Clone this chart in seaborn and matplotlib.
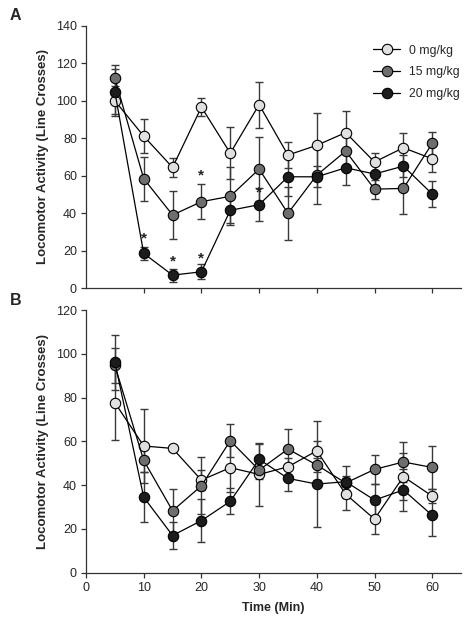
import numpy as np
import pandas as pd
import matplotlib
matplotlib.use("Agg")
import matplotlib.pyplot as plt
import seaborn as sns

time = [5, 10, 15, 20, 25, 30, 35, 40, 45, 50, 55, 60]
doses = ["0 mg/kg", "15 mg/kg", "20 mg/kg"]

# Panel A means / SEM
a_0 = [100, 81.1, 64.4, 96.6, 72, 97.9, 71, 76.2, 83, 67.3, 74.9, 69]
a_0_err = [8, 9, 5, 5, 14, 12.3, 7, 17, 11.5, 5, 8, 7]
a_15 = [112, 58.4, 39, 46.1, 49, 63.5, 39.9, 60.3, 73.1, 52.8, 53.2, 77.2]
a_15_err = [7, 11.7, 12.7, 9.4, 15.5, 17, 14.3, 15.5, 8, 5, 13.5, 6]
a_20 = [104.8, 18.5, 6.9, 8.7, 41.5, 44.5, 59.4, 59.4, 64.2, 60.9, 65.1, 50.2]
a_20_err = [12, 3.5, 3.5, 4, 7, 8.7, 10, 5.5, 9, 6, 6, 7]

# Panel B means / SEM
b_0 = [77.7, 57.9, 56.8, 42.3, 48, 44.9, 48.4, 55.7, 35.9, 24.5, 43.9, 35]
b_0_err = [17, 16.7, 1, 4.6, 11, 14.5, 4, 13.4, 7.4, 6.8, 10.6, 3.2]
b_15 = [94.7, 51.3, 28.3, 39.7, 60.3, 46.9, 56.5, 49.2, 41, 47.2, 50.6, 48.1]
b_15_err = [8.2, 5.5, 9.8, 13, 7.5, 4, 9, 3, 3, 6.7, 9.1, 9.8]
b_20 = [96.2, 34.5, 17, 23.8, 32.6, 51.8, 43.1, 40.5, 41.6, 33.2, 37.8, 26.2]
b_20_err = [12.5, 11.5, 6.2, 9.8, 6, 7, 5.8, 19.5, 7.3, 7.5, 9.5, 9.4]

# significance stars (panel A)
star_x = [10, 15, 20, 20, 30]
star_y = [26.5, 14, 16, 60, 51]

colors = ["#e0e0e0", "#6e6e6e", "#1c1c1c"]


def make_df(series, errs):
    rows = []
    for dose, vals, err in zip(doses, series, errs):
        for t, v, e in zip(time, vals, err):
            rows.append({"Time": t, "Activity": v, "SEM": e, "Dose": dose})
    return pd.DataFrame(rows)


df_a = make_df([a_0, a_15, a_20], [a_0_err, a_15_err, a_20_err])
df_b = make_df([b_0, b_15, b_20], [b_0_err, b_15_err, b_20_err])

sns.set_style("ticks")
plt.rcParams["font.family"] = ["Liberation Sans", "DejaVu Sans"]

fig = plt.figure(figsize=(4.7, 6.29), dpi=100)
ax_a = fig.add_axes([0.183, 0.542, 0.798, 0.417])
ax_b = fig.add_axes([0.183, 0.0895, 0.798, 0.4175])


def draw_panel(ax, df, ymax):
    for dose in doses:
        sub = df[df["Dose"] == dose]
        ax.errorbar(sub["Time"], sub["Activity"], yerr=sub["SEM"], fmt="none",
                    ecolor="#3a3a3a", elinewidth=1.0, capsize=3.2,
                    capthick=1.0, zorder=2)
    n_before = len(ax.lines)
    sns.lineplot(data=df, x="Time", y="Activity", hue="Dose", hue_order=doses,
                 palette=colors, ax=ax, marker="o", markersize=7.5,
                 markeredgecolor="black", markeredgewidth=0.8,
                 linewidth=0.9, legend=False, zorder=3)
    # black connecting lines, grey-shaded markers
    for line, c in zip(ax.lines[n_before:], colors):
        line.set_color("black")
        line.set_markerfacecolor(c)
        line.set_markeredgecolor("black")
    ax.set_xlim(0, 65)
    ax.set_ylim(0, ymax)
    ax.set_yticks(np.arange(0, ymax + 1, 20))
    ax.set_xticks([0, 10, 20, 30, 40, 50, 60])
    ax.set_ylabel("Locomotor Activity (Line Crosses)", fontsize=9.5,
                  fontweight="bold", labelpad=5)
    ax.tick_params(direction="out", length=3.5, width=0.9, labelsize=9,
                   color="#333333", pad=3)
    for s in ["left", "bottom"]:
        ax.spines[s].set_color("#333333")
        ax.spines[s].set_linewidth(0.9)
    sns.despine(ax=ax)


draw_panel(ax_a, df_a, 140)
draw_panel(ax_b, df_b, 120)

ax_a.set_xlabel("")
ax_a.tick_params(axis="x", labelbottom=False)
ax_a.set_xticks([10, 20, 30, 40, 50, 60])
ax_b.set_xlabel("Time (Min)", fontsize=9, fontweight="bold", labelpad=6)

for x, y in zip(star_x, star_y):
    ax_a.text(x, y, "*", ha="center", va="center", fontsize=11,
              fontweight="bold", color="#222222", zorder=4)

handles = []
for c, d in zip(colors, doses):
    h, = ax_a.plot([], [], color="black", marker="o", markersize=7.5,
                   markerfacecolor=c, markeredgecolor="black",
                   markeredgewidth=0.8, linewidth=0.9, label=d)
    handles.append(h)
leg = ax_a.legend(handles=handles, loc="upper right", frameon=False,
                  fontsize=8.8, handlelength=2.2, handletextpad=0.7,
                  labelspacing=0.8, bbox_to_anchor=(1.025, 0.97))

fig.text(0.02, 0.976, "A", fontsize=11.5, fontweight="bold", va="center")
fig.text(0.02, 0.522, "B", fontsize=11.5, fontweight="bold", va="center")

fig.savefig("out.png", dpi=100)
